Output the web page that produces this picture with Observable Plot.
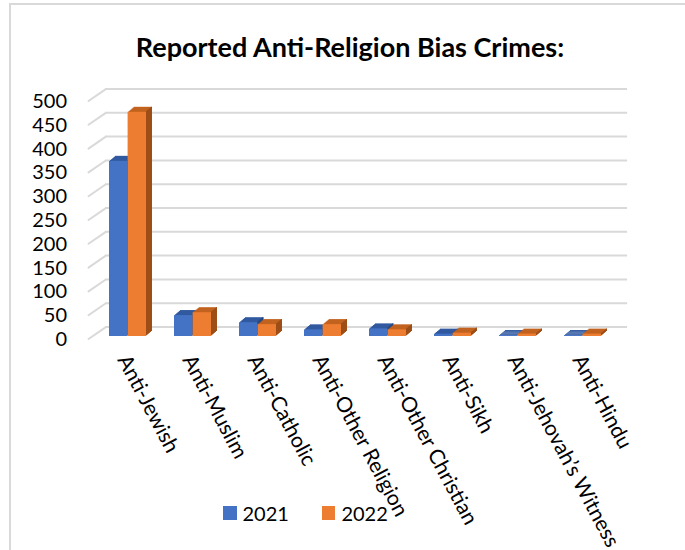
<!DOCTYPE html>
<html><head><meta charset="utf-8">
<script src="https://cdn.jsdelivr.net/npm/d3@7"></script>
<script src="https://cdn.jsdelivr.net/npm/@observablehq/plot@0.6"></script>
<style>
body{margin:0;background:#fff;font-family:Lato,sans-serif;color:#000;}
#wrap{position:relative;width:685px;height:550px;overflow:hidden;background:#fff;}
#frame{position:absolute;left:9px;top:3px;width:700px;height:600px;border-left:2px solid #d9d9d9;border-top:2px solid #d9d9d9;box-sizing:border-box;}
#title{position:absolute;left:0;top:31px;width:700px;line-height:32px;text-align:center;font-weight:bold;font-size:27px;}
#chart{position:absolute;left:0;top:75px;}
#legend{position:absolute;left:223px;top:500px;display:flex;align-items:center;font-size:20px;line-height:26px;}
#legend .item{display:flex;align-items:center;margin-right:33px;}
#legend .sw{width:13.5px;height:13.5px;margin-right:6px;}
</style>
</head><body>
<div id="wrap">
  <div id="frame"></div>
  <div id="title">Reported Anti-Religion Bias Crimes:</div>
  <div id="chart"></div>
  <div id="legend"></div>
</div>
<script>
const categories = ["Anti-Jewish","Anti-Muslim","Anti-Catholic","Anti-Other Religion","Anti-Other Christian","Anti-Sikh","Anti-Jehovah’s Witness","Anti-Hindu"];
const years = ["2021","2022"];
const values2021 = [368, 44, 29, 14, 16, 5, 2, 2];
const values2022 = [471, 50, 25, 25, 14, 7, 5, 5];
const yTicks = [0,50,100,150,200,250,300,350,400,450,500];

const rows = categories.map((c,i)=>({category:c, v2021: values2021[i], v2022: values2022[i]}));

const W = 685, H = 475;
const mL = 93.5, mR = 69.4, mT = 23, mB = 214;
const D = 6, Hd = 5;
const half = 18.6;
const series = [
  {key:"v2021", front:"#4472C4", top:"#30599F", side:"#264478", inL:0, inR:half},
  {key:"v2022", front:"#ED7D31", top:"#C2621F", side:"#9E4E17", inL:half, inR:0}
];
const lineShape = {draw(context, l) { context.moveTo(0,0); context.lineTo(0,-l); }};

const marks = [];
marks.push(Plot.ruleY(yTicks, {y: d=>d, dx: 11.5, dy: -9.5, stroke:"#d9d9d9", strokeWidth:2}));
marks.push(Plot.vector(yTicks, {y: d=>d, frameAnchor:"left", dx:-5.5, dy:2.5, length:20.6, rotate:55.5, anchor:"start", stroke:"#d9d9d9", strokeWidth:2, shape: lineShape}));
for (const s of series) {
  for (let k=1;k<=D;k++) marks.push(Plot.barY(rows, {x:"category", y:s.key, fill:s.top, dx:k, dy:-k*Hd/D, insetLeft:s.inL, insetRight:s.inR}));
  for (let k=1;k<=D;k++) marks.push(Plot.barY(rows, {x:"category", y:s.key, fill:s.side, dx:k, dy:-k*Hd/D, insetLeft:s.inL+half-1.3, insetRight:s.inR}));
  marks.push(Plot.barY(rows, {x:"category", y:s.key, fill:s.front, insetLeft:s.inL, insetRight:s.inR}));
}
marks.push(Plot.axisY(yTicks, {tickSize:0, tickPadding:27, dy:3, label:null}));
marks.push(Plot.axisX({tickSize:0, tickRotate:62, tickPadding:20, dx:-5, fontSize:21, label:null}));

const chart = Plot.plot({
  width: W, height: H,
  marginLeft: mL, marginRight: mR, marginTop: mT, marginBottom: mB,
  style: {fontFamily: "Lato", fontSize: "20px", color: "#000", background: "transparent", overflow: "visible"},
  x: {domain: categories, paddingInner: 0.43, paddingOuter: 0.215, label: null},
  y: {domain: [0, 500], label: null},
  marks
});
document.getElementById("chart").appendChild(chart);

const colors = series.map(s => s.front);
const legend = d3.select("#legend");
years.forEach((yr, i) => {
  const item = legend.append("div").attr("class","item");
  item.append("div").attr("class","sw").style("background", colors[i]);
  item.append("span").text(yr);
});
</script>
</body></html>
